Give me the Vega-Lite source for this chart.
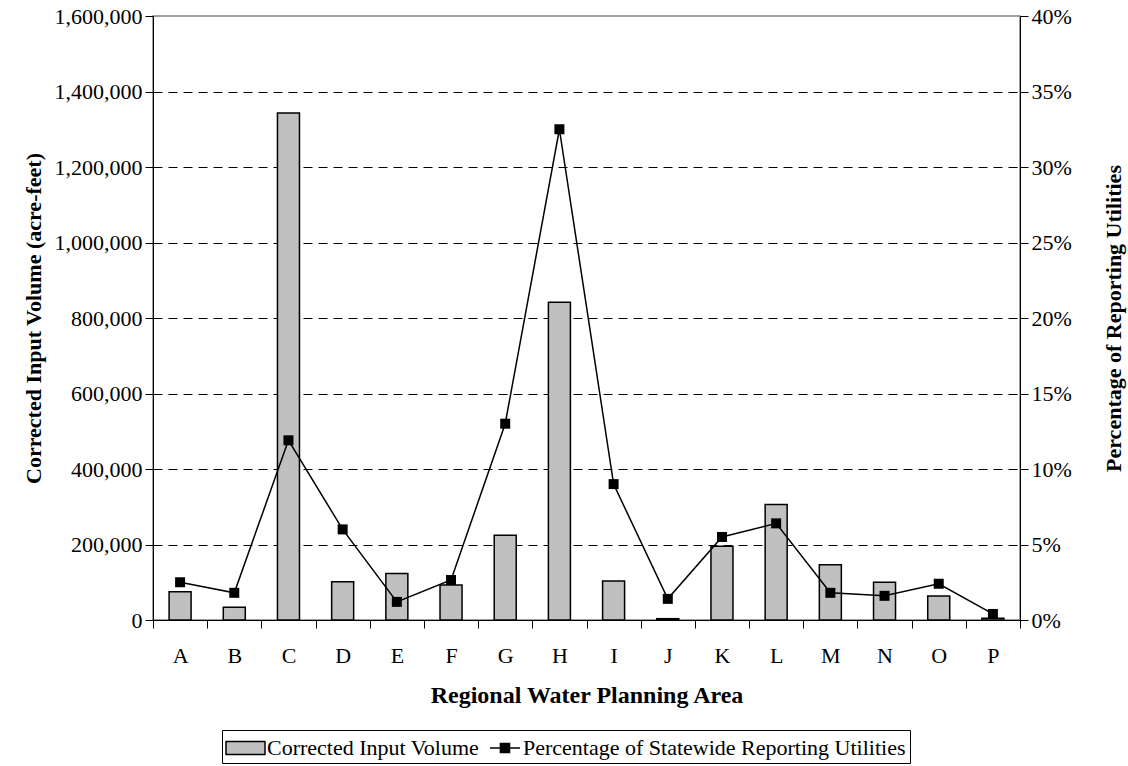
{
  "$schema": "https://vega.github.io/schema/vega-lite/v6.json",
  "width": 867,
  "height": 604,
  "autosize": "none",
  "padding": {"left": 153, "top": 16, "right": 108, "bottom": 146},
  "background": "white",
  "config": {
    "view": {"stroke": "#808080", "strokeWidth": 1.5},
    "font": "Liberation Serif",
    "axis": {
      "labelFont": "Liberation Serif",
      "labelFontSize": 22,
      "labelColor": "black",
      "titleFont": "Liberation Serif",
      "titleFontSize": 22,
      "titleFontWeight": "bold",
      "titleColor": "black",
      "domainColor": "black",
      "domainWidth": 1,
      "tickColor": "black",
      "tickWidth": 1,
      "tickSize": 8
    },
    "legend": {
      "labelFont": "Liberation Serif",
      "titleFont": "Liberation Serif"
    }
  },
  "data": {
    "values": [
      {"region": "A", "volume": 75000, "pct": 0.025},
      {"region": "B", "volume": 33600, "pct": 0.018},
      {"region": "C", "volume": 1343000, "pct": 0.119},
      {"region": "D", "volume": 101500, "pct": 0.060},
      {"region": "E", "volume": 123000, "pct": 0.012},
      {"region": "F", "volume": 92500, "pct": 0.0265},
      {"region": "G", "volume": 224500, "pct": 0.130},
      {"region": "H", "volume": 841500, "pct": 0.325},
      {"region": "I", "volume": 103000, "pct": 0.090},
      {"region": "J", "volume": 3500, "pct": 0.014},
      {"region": "K", "volume": 195600, "pct": 0.055},
      {"region": "L", "volume": 306000, "pct": 0.064},
      {"region": "M", "volume": 146500, "pct": 0.018},
      {"region": "N", "volume": 100000, "pct": 0.016},
      {"region": "O", "volume": 63500, "pct": 0.024},
      {"region": "P", "volume": 4500, "pct": 0.004}
    ]
  },
  "encoding": {
    "x": {
      "field": "region",
      "type": "nominal",
      "sort": null,
      "scale": {"paddingInner": 0, "paddingOuter": 0},
      "axis": {
        "title": "Regional Water Planning Area",
        "titleFontSize": 24,
        "labelAngle": 0,
        "tickBand": "extent",
        "labelPadding": 17,
        "titlePadding": 17
      }
    }
  },
  "layer": [
    {
      "mark": {"type": "bar", "fill": "#c0c0c0", "stroke": "black", "strokeWidth": 1.5, "width": {"band": 0.406}},
      "encoding": {
        "y": {
          "field": "volume",
          "type": "quantitative",
          "scale": {"domain": [0, 1600000], "nice": false},
          "axis": {
            "orient": "left",
            "title": "Corrected Input Volume (acre-feet)",
            "values": [0, 200000, 400000, 600000, 800000, 1000000, 1200000, 1400000, 1600000],
            "format": ",d",
            "grid": true,
            "gridColor": "black",
            "gridDash": [9, 6],
            "gridWidth": 1,
            "gridOpacity": {"condition": {"test": "datum.value >= 1600000", "value": 0}, "value": 1},
            "labelPadding": 3,
            "titlePadding": 9
          }
        }
      }
    },
    {
      "encoding": {
        "y": {
          "field": "pct",
          "type": "quantitative",
          "scale": {"domain": [0, 0.4], "nice": false},
          "axis": {
            "orient": "right",
            "title": "Percentage of Reporting Utilities",
            "titleAngle": 270,
            "titleBaseline": "top",
            "values": [0, 0.05, 0.1, 0.15, 0.2, 0.25, 0.3, 0.35, 0.4],
            "format": ".0%",
            "grid": false,
            "labelPadding": 3,
            "titlePadding": 32
          }
        }
      },
      "layer": [
        {"mark": {"type": "line", "color": "black", "strokeWidth": 1.5}},
        {"mark": {"type": "point", "shape": "square", "filled": true, "color": "black", "opacity": 1, "size": 100}}
      ]
    },
    {
      "data": {"values": []},
      "mark": {"type": "point", "filled": true, "opacity": 1},
      "encoding": {
        "color": {
          "field": "series",
          "type": "nominal",
          "scale": {
            "domain": ["Corrected Input Volume", "Percentage of Statewide Reporting Utilities"],
            "range": ["#c0c0c0", "black"]
          },
          "legend": {
            "title": null,
            "orient": "none",
            "direction": "horizontal",
            "legendX": 69,
            "legendY": 714,
            "labelFont": "Liberation Serif",
            "labelFontSize": 22,
            "labelColor": "black",
            "labelLimit": 0,
            "labelOffset": 13,
            "columnPadding": 2,
            "symbolSize": 676,
            "symbolStrokeColor": "black",
            "symbolStrokeWidth": 1.5,
            "strokeColor": "black",
            "padding": 4
          }
        },
        "shape": {
          "field": "series",
          "type": "nominal",
          "scale": {
            "domain": ["Corrected Input Volume", "Percentage of Statewide Reporting Utilities"],
            "range": ["M-1.077,-0.5H1.923V0.5H-1.077Z", "M-0.46,0H1.846M0.34,-0.35H1.04V0.35H0.34Z"]
          },
          "legend": {
            "title": null,
            "orient": "none",
            "direction": "horizontal",
            "legendX": 69,
            "legendY": 714,
            "labelFont": "Liberation Serif",
            "labelFontSize": 22,
            "labelColor": "black",
            "labelLimit": 0,
            "labelOffset": 13,
            "columnPadding": 2,
            "symbolSize": 676,
            "symbolStrokeColor": "black",
            "symbolStrokeWidth": 1.5,
            "strokeColor": "black",
            "padding": 4
          }
        }
      }
    }
  ],
  "resolve": {"scale": {"y": "independent"}}
}
